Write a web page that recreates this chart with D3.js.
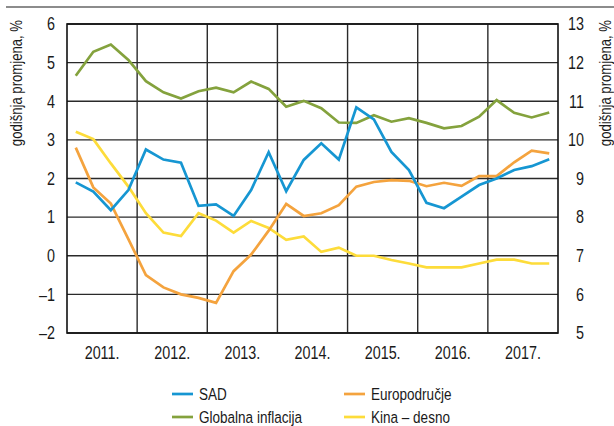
<!DOCTYPE html>
<html>
<head>
<meta charset="utf-8">
<script src="https://cdn.jsdelivr.net/npm/d3@7"></script>
<style>
  body { margin: 0; background: #fff; }
  svg text { font-family: 'Liberation Sans', Arial, sans-serif; fill: #1a1a1a; }
</style>
</head>
<body>
<svg id="chart" width="614" height="426"></svg>
<script>
// quarterly data 2011 Q1 - 2017 Q4
let years = ["2011.", "2012.", "2013.", "2014.", "2015.", "2016.", "2017."];

let sad = [1.90, 1.66, 1.18, 1.70, 2.75, 2.49, 2.41, 1.29, 1.33, 1.03, 1.70, 2.68, 1.67, 2.48,
           2.91, 2.49, 3.84, 3.53, 2.69, 2.22, 1.37, 1.23, 1.53, 1.83, 2.00, 2.22, 2.32, 2.50];
let euro = [2.80, 1.77, 1.35, 0.43, -0.50, -0.82, -1.00, -1.09, -1.22, -0.40, 0.03, 0.65, 1.34, 1.03,
            1.10, 1.31, 1.79, 1.91, 1.96, 1.94, 1.80, 1.89, 1.81, 2.06, 2.06, 2.42, 2.72, 2.65];
let globalna = [4.66, 5.28, 5.47, 5.07, 4.52, 4.23, 4.07, 4.26, 4.35, 4.23, 4.51, 4.32, 3.86, 4.01,
                3.82, 3.45, 3.44, 3.64, 3.47, 3.56, 3.44, 3.30, 3.36, 3.60, 4.03, 3.70, 3.58, 3.71];
// right axis
let kina = [10.21, 10.02, 9.39, 8.79, 8.10, 7.60, 7.51, 8.10, 7.91, 7.60, 7.90, 7.72, 7.41, 7.50,
            7.10, 7.21, 7.00, 7.00, 6.89, 6.80, 6.70, 6.70, 6.70, 6.80, 6.90, 6.90, 6.80, 6.80];

let leftTicks = [-2, -1, 0, 1, 2, 3, 4, 5, 6];
let rightTicks = [5, 6, 7, 8, 9, 10, 11, 12, 13];

let colors = { sad: "#1696d2", euro: "#f4a33e", globalna: "#84a23d", kina: "#fddc3a" };

// Arial scaled horizontally ~ Arial Narrow
const NARROW = 0.82;

let svg = d3.select("#chart");

// plot area
let pLeft = 67, pRight = 558, pTop = 24, pBottom = 333;

let x = d3.scaleLinear().domain([0, years.length * 4]).range([pLeft, pRight]);
let yL = d3.scaleLinear().domain([-2, 6]).range([pBottom, pTop]);
let yR = d3.scaleLinear().domain([5, 13]).range([pBottom, pTop]);

let fmt = d => (d < 0 ? "\u2013" + Math.abs(d) : d);

// top rule
svg.append("line")
    .attr("x1", 6).attr("x2", 614).attr("y1", 7).attr("y2", 7)
    .attr("stroke", "#8c8c8c").attr("stroke-width", 2);

// horizontal grid
svg.append("g").selectAll("line")
    .data(leftTicks)
    .enter().append("line")
    .attr("x1", pLeft).attr("x2", pRight)
    .attr("y1", d => yL(d)).attr("y2", d => yL(d))
    .attr("stroke", "#2a2a2a").attr("stroke-width", 1.4);

// vertical grid at year boundaries
svg.append("g").selectAll("line")
    .data(d3.range(1, years.length))
    .enter().append("line")
    .attr("x1", d => x(d * 4)).attr("x2", d => x(d * 4))
    .attr("y1", pTop).attr("y2", pBottom)
    .attr("stroke", "#2a2a2a").attr("stroke-width", 1.4);

// frame
svg.append("rect")
    .attr("x", pLeft).attr("y", pTop)
    .attr("width", pRight - pLeft).attr("height", pBottom - pTop)
    .attr("fill", "none").attr("stroke", "#111").attr("stroke-width", 1.6);

// left axis labels
svg.append("g").selectAll("text")
    .data(leftTicks)
    .enter().append("text")
    .attr("transform", d => `translate(55,${yL(d)}) scale(${NARROW},1)`)
    .attr("dy", "0.36em")
    .attr("text-anchor", "end")
    .style("font-size", "17.5px")
    .text(fmt);

// right axis labels
svg.append("g").selectAll("text")
    .data(rightTicks)
    .enter().append("text")
    .attr("transform", d => `translate(584,${yR(d)}) scale(${NARROW},1)`)
    .attr("dy", "0.36em")
    .attr("text-anchor", "end")
    .style("font-size", "17.5px")
    .text(d => d);

// year labels
svg.append("g").selectAll("text")
    .data(years)
    .enter().append("text")
    .attr("transform", (d, i) => `translate(${x(i * 4 + 2)},359) scale(${NARROW},1)`)
    .attr("text-anchor", "middle")
    .style("font-size", "17.5px")
    .text(d => d);

// axis titles
svg.append("text")
    .attr("transform", `translate(22,20) rotate(-90) scale(${NARROW},1)`)
    .attr("text-anchor", "end")
    .style("font-size", "16px")
    .text("godišnja promjena, %");

svg.append("text")
    .attr("transform", `translate(611,20) rotate(-90) scale(${NARROW},1)`)
    .attr("text-anchor", "end")
    .style("font-size", "16px")
    .text("godišnja promjena, %");

// lines
let lineL = d3.line().x((d, i) => x(i + 0.5)).y(d => yL(d));
let lineR = d3.line().x((d, i) => x(i + 0.5)).y(d => yR(d));

let series = [
    { key: "kina", data: kina, line: lineR },
    { key: "globalna", data: globalna, line: lineL },
    { key: "euro", data: euro, line: lineL },
    { key: "sad", data: sad, line: lineL },
];

svg.append("g").selectAll("path")
    .data(series)
    .enter().append("path")
    .attr("d", d => d.line(d.data))
    .attr("fill", "none")
    .attr("stroke", d => colors[d.key])
    .attr("stroke-width", 2.7)
    .attr("stroke-linejoin", "miter");

// legend
let legendItems = [
    { label: "SAD", key: "sad", col: 0, row: 0 },
    { label: "Europodručje", key: "euro", col: 1, row: 0 },
    { label: "Globalna inflacija", key: "globalna", col: 0, row: 1 },
    { label: "Kina \u2013 desno", key: "kina", col: 1, row: 1 },
];

let legend = svg.append("g").selectAll("g")
    .data(legendItems)
    .enter().append("g")
    .attr("transform", d => `translate(${172 + d.col * 172},${394 + d.row * 23})`);

legend.append("line")
    .attr("x1", 0).attr("x2", 21)
    .attr("stroke", d => colors[d.key])
    .attr("stroke-width", 2.7);

legend.append("text")
    .attr("transform", `translate(27,0) scale(${NARROW},1)`)
    .attr("dy", "0.36em")
    .style("font-size", "16.5px")
    .text(d => d.label);
</script>
</body>
</html>
